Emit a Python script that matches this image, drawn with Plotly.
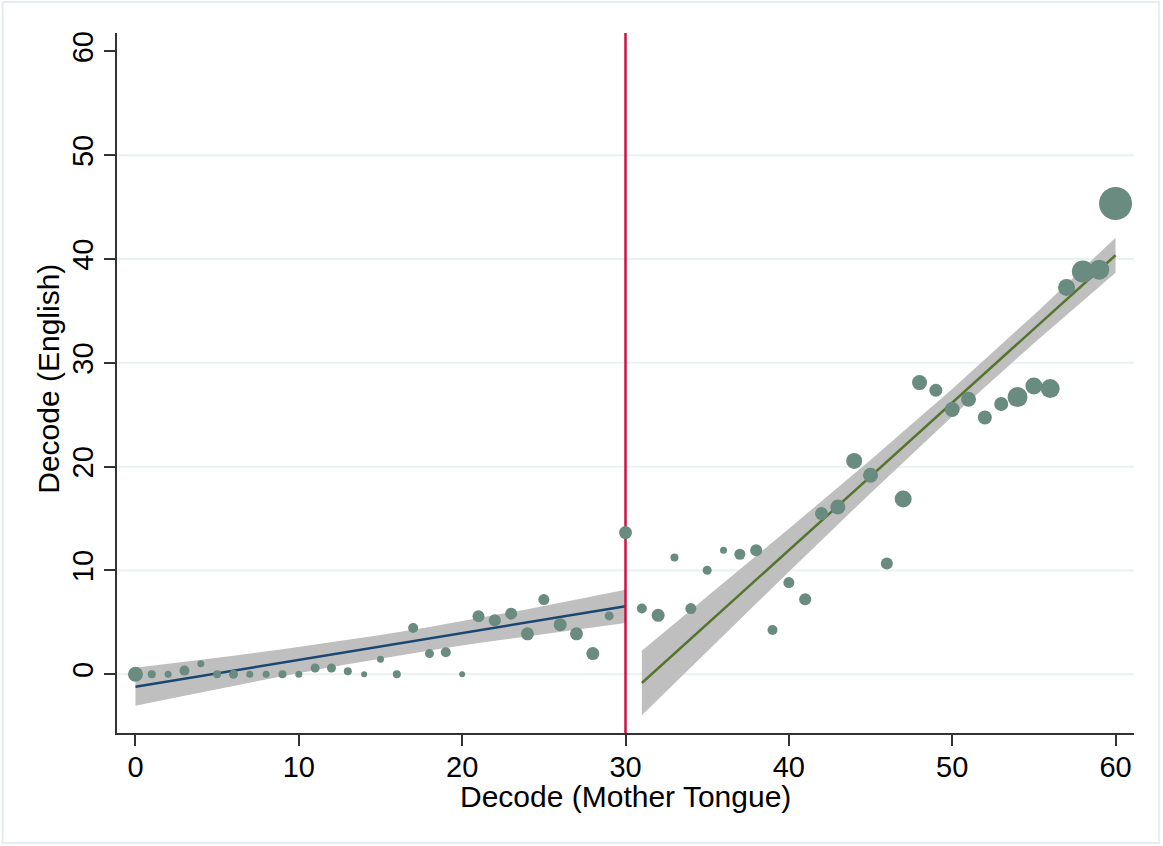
import plotly.graph_objects as go

# ---------------- data ----------------
mt_score = list(range(61))
eng_score = [0, 0, 0, 0.35, 1.0, 0, 0, 0, 0, 0,
             0, 0.6, 0.6, 0.28, 0, 1.44, 0, 4.46, 1.99, 2.12,
             0, 5.59, 5.2, 5.84, 3.89, 7.19, 4.78, 3.89, 1.99, 5.62,
             13.65, 6.33, 5.68, 11.24, 6.33, 10.02, 11.95, 11.56, 11.95, 4.27,
             8.83, 7.23, 15.48, 16.12, 20.55, 19.17, 10.66, 16.89, 28.1, 27.36,
             25.5, 26.5, 24.73, 26.04, 26.7, 27.78, 27.52, 37.25, 38.8, 38.98,
             45.35]
marker_px = [15, 8, 7, 10, 7, 8, 9, 7, 7, 8,
             7, 9, 9, 8, 6, 7, 8, 10, 9, 10,
             6, 12, 12, 12, 13, 11, 13, 13, 13, 9,
             13, 10, 13, 8, 11, 9, 7, 11, 12, 10,
             11, 12, 13, 15, 16, 15, 12, 17, 15, 13,
             15, 15, 14, 14, 20, 17, 19, 17, 22, 20,
             33]

left_x = [0, 3, 6, 9, 12, 15, 18, 21, 24, 27, 30]
left_fit = [-1.2, -0.43, 0.35, 1.12, 1.9, 2.67, 3.45, 4.22, 5.0, 5.77, 6.55]
left_lo = [-3.03, -2.06, -1.11, -0.19, 0.69, 1.52, 2.29, 3.0, 3.67, 4.31, 4.93]
left_hi = [0.63, 1.19, 1.78, 2.41, 3.07, 3.78, 4.55, 5.38, 6.27, 7.19, 8.15]

right_x = [31, 35, 40, 45, 50, 55, 60]
right_fit = [-0.84, 4.84, 11.95, 19.05, 26.16, 33.26, 40.37]
right_lo = [-3.94, 2.22, 9.88, 17.45, 24.83, 31.9, 38.68]
right_hi = [2.26, 7.46, 14.02, 20.65, 27.49, 34.62, 42.06]

cutoff = 30
x_ticks = [0, 10, 20, 30, 40, 50, 60]
y_ticks = [0, 10, 20, 30, 40, 50, 60]
grid_y = [0, 10, 20, 30, 40, 50]
x_range = [-1.13, 61.13]
y_range = [-5.66, 61.78]
x_title = "Decode (Mother Tongue)"
y_title = "Decode (English)"

# ---------------- styles ----------------
FONT = "Liberation Sans, Arial, sans-serif"
PT_COLOR = "#6A8B7F"
BAND = "#BFBFBF"
BLUE = "#1A476F"
GREEN = "#55752F"
RED = "#CC1040"
AXIS = "#333333"
GRID = "#EAF1F3"

fig = go.Figure()

# confidence bands
for xs, lo, hi in [(left_x, left_lo, left_hi), (right_x, right_lo, right_hi)]:
    fig.add_trace(go.Scatter(
        x=xs + xs[::-1], y=hi + lo[::-1], fill="toself", fillcolor=BAND,
        line=dict(width=0), mode="lines", hoverinfo="skip", showlegend=False))

# fit lines
fig.add_trace(go.Scatter(x=left_x, y=left_fit, mode="lines",
                         line=dict(color=BLUE, width=2.5), showlegend=False))
fig.add_trace(go.Scatter(x=right_x, y=right_fit, mode="lines",
                         line=dict(color=GREEN, width=2.5), showlegend=False))

# cutoff line
fig.add_trace(go.Scatter(x=[cutoff, cutoff], y=y_range, mode="lines",
                         line=dict(color=RED, width=2.5), showlegend=False))

# binned scatter
fig.add_trace(go.Scatter(x=mt_score, y=eng_score, mode="markers",
                         marker=dict(color=PT_COLOR, size=marker_px, opacity=1,
                                     line=dict(width=0)),
                         showlegend=False))

shapes = []
for g in grid_y:
    shapes.append(dict(type="line", xref="x", yref="y", x0=x_range[0], x1=x_range[1],
                       y0=g, y1=g, line=dict(color=GRID, width=2), layer="below"))
# outer graph-region border
shapes.append(dict(type="rect", xref="paper", yref="paper",
                   x0=-0.1125, x1=1.0245, y0=-0.157, y1=1.0443,
                   line=dict(color="#E6EDF0", width=2), layer="below"))

annotations = [
    dict(text=x_title, xref="paper", yref="paper", x=0.5, y=-0.0914,
         xanchor="center", yanchor="middle", showarrow=False,
         font=dict(size=30, family=FONT, color="black")),
    dict(text=y_title, xref="paper", yref="paper", x=-0.0669, y=0.506,
         xanchor="center", yanchor="middle", showarrow=False, textangle=-90,
         font=dict(size=30, family=FONT, color="black")),
]

fig.update_layout(
    width=1163, height=846,
    margin=dict(l=117, r=29, t=33, b=113),
    paper_bgcolor="white", plot_bgcolor="white",
    font=dict(family=FONT, color="black"),
    shapes=shapes,
    annotations=annotations,
    xaxis=dict(range=x_range, tickvals=x_ticks, showgrid=False, zeroline=False,
               showline=True, linecolor=AXIS, linewidth=1.5,
               ticks="outside", ticklen=11, tickwidth=1.5, tickcolor=AXIS,
               ticklabelstandoff=-4,
               tickfont=dict(size=29, family=FONT)),
    yaxis=dict(range=y_range, tickvals=y_ticks, showgrid=False, zeroline=False,
               showline=True, linecolor=AXIS, linewidth=1.5,
               ticks="outside", ticklen=11, tickwidth=1.5, tickcolor=AXIS,
               tickangle=-90,
               tickfont=dict(size=29, family=FONT)),
)

fig.write_html("out.html", config={"displayModeBar": False},
               post_script="document.body.style.margin='0';document.body.style.overflow='hidden';")
